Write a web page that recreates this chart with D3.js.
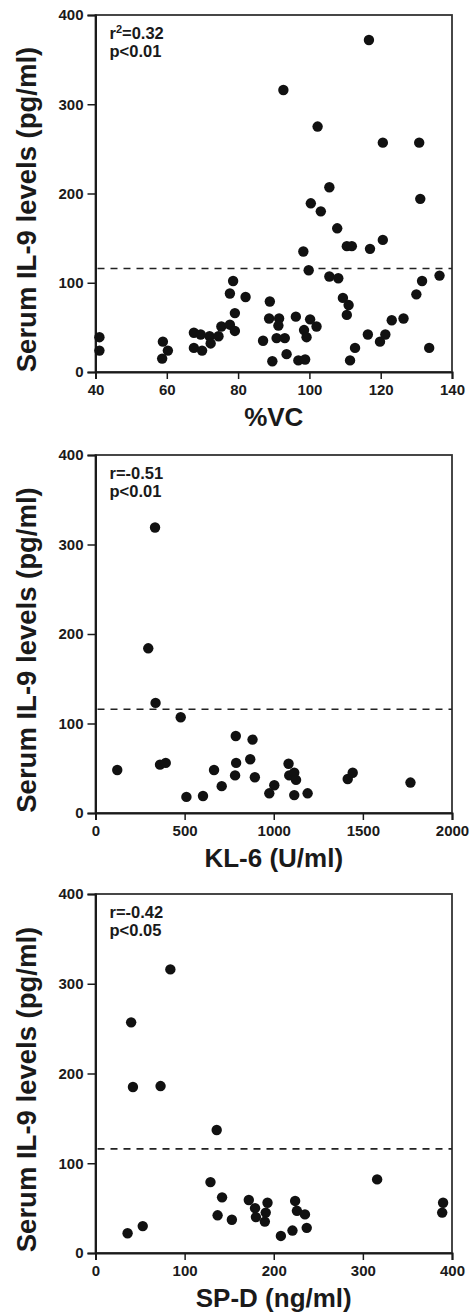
<!DOCTYPE html>
<html><head><meta charset="utf-8">
<script src="https://cdn.jsdelivr.net/npm/d3@7"></script>
<style>body{margin:0;background:#fff}text{font-family:"Liberation Sans",Arial,Helvetica,sans-serif;fill:#1a1a1a}</style>
</head><body>
<svg id="c" width="471" height="1312"></svg>
<script>
// ---- data ----
const yTicks = [0, 100, 200, 300, 400];
const cutoff = 116;
const yTitle = "Serum IL-9 levels (pg/ml)";

const vcTicks = [40, 60, 80, 100, 120, 140];
const vcX = [41.1,41.1,58.9,58.7,60.3,67.6,67.6,69.5,69.9,72,72.3,74.5,75.3,77.7,77.7,78.6,79.1,79.1,82.1,87,88.9,88.7,89.6,91.5,91.3,90.8,93.1,93.6,96.2,96.9,98.8,98.5,99.2,100.2,99.8,102,105.6,108.1,109.4,111,110.5,111.4,112.8,116.4,119.8,121.3,123.1,126.4,130,131.6,133.6,136.5,105.6,120.6,130.8,100.4,103.2,131.1,107.8,110.5,111.9,117,120.6,98.3,116.7,92.7,102.3];
const vcY = [39,24,34,15,24,44,27,42,24,40,32,40,51,53,88,102,66,46,84,35,79,60,12,60,52,38,38,20,62,13,14,47,39,59,114,51,107,105,83,75,64,13,27,42,34,42,58,60,87,102,27,108,207,257,257,189,180,194,161,141,141,138,148,135,372,316,275];

const klTicks = [0, 500, 1000, 1500, 2000];
const klX = [122,337,478,362,394,510,603,665,708,787,789,783,881,868,894,975,1003,1083,1087,1115,1125,1115,1190,1415,1443,1767,296,334];
const klY = [48,123,107,54,56,18,19,48,30,86,56,42,82,60,40,22,31,55,42,45,37,20,22,38,45,34,184,319];

const spdTicks = [0, 100, 200, 300, 400];
const spdX = [36,53,129,142,137,153,172,179,180,193,191,190,208,221,224,226,235,237,316,390,389,40,42,73,136,84];
const spdY = [22,30,79,62,42,37,59,50,40,56,45,35,19,25,58,47,43,28,82,56,45,257,185,186,137,316];

const panels = [
  {top: 15,  bottom: 372,  xDomain: [40, 140], xTicks: vcTicks,  xs: vcX,  ys: vcY,  xTitle: "%VC",          stat: ["r", "2", "=0.32"], p: "p<0.01"},
  {top: 455, bottom: 813,  xDomain: [0, 2000], xTicks: klTicks,  xs: klX,  ys: klY,  xTitle: "KL-6 (U/ml)",  stat: ["r=-0.51"],          p: "p<0.01"},
  {top: 894, bottom: 1253, xDomain: [0, 400],  xTicks: spdTicks, xs: spdX, ys: spdY, xTitle: "SP-D (ng/ml)", stat: ["r=-0.42"],          p: "p<0.05"}
];

const svg = d3.select("#c");
const left = 95.5, right = 452;
const ink = "#1a1a1a";

panels.forEach(pn => {
  const x = d3.scaleLinear().domain(pn.xDomain).range([left, right]);
  const y = d3.scaleLinear().domain([0, 400]).range([pn.bottom, pn.top]);
  const g = svg.append("g");

  // frame
  g.append("rect").attr("x", left).attr("y", pn.top)
    .attr("width", right - left).attr("height", pn.bottom - pn.top)
    .attr("fill", "none").attr("stroke", "#333").attr("stroke-width", 1.8);

  // y axis
  const ya = g.append("g").attr("transform", `translate(${left},0)`)
    .call(d3.axisLeft(y).tickValues(yTicks).tickSize(8).tickPadding(4).tickFormat(d3.format("d")));
  ya.select(".domain").attr("stroke", ink).attr("stroke-width", 2);
  ya.selectAll(".tick line").attr("stroke", ink).attr("stroke-width", 1.5);
  ya.selectAll(".tick text").attr("font-size", 15).attr("font-weight", "bold")
    .attr("fill", ink).style("font-family", '"Liberation Sans",Arial,sans-serif');

  // x axis
  const xa = g.append("g").attr("transform", `translate(0,${pn.bottom})`)
    .call(d3.axisBottom(x).tickValues(pn.xTicks).tickSize(7).tickPadding(5).tickFormat(d3.format("d")));
  xa.select(".domain").attr("stroke", ink).attr("stroke-width", 2);
  xa.selectAll(".tick line").attr("stroke", ink).attr("stroke-width", 1.5);
  xa.selectAll(".tick text").attr("font-size", 15).attr("font-weight", "bold")
    .attr("fill", ink).style("font-family", '"Liberation Sans",Arial,sans-serif');

  // cutoff dashed line
  g.append("line").attr("x1", left + 2).attr("x2", right)
    .attr("y1", y(cutoff)).attr("y2", y(cutoff))
    .attr("stroke", "#222").attr("stroke-width", 1.6).attr("stroke-dasharray", "7,6");

  // points
  g.selectAll("circle").data(pn.xs.map((v, i) => [v, pn.ys[i]])).enter().append("circle")
    .attr("cx", d => x(d[0])).attr("cy", d => y(d[1])).attr("r", 5.2).attr("fill", "#111");

  // stats
  const st = g.append("text").attr("x", left + 14).attr("y", pn.top + 24)
    .attr("font-size", 16.5).attr("font-weight", "bold");
  if (pn.stat.length === 3) {
    st.append("tspan").text(pn.stat[0]);
    st.append("tspan").attr("dy", -6).attr("font-size", 11).text(pn.stat[1]);
    st.append("tspan").attr("dy", 6).text(pn.stat[2]);
  } else {
    st.text(pn.stat[0]);
  }
  g.append("text").attr("x", left + 14).attr("y", pn.top + 42)
    .attr("font-size", 16.5).attr("font-weight", "bold").text(pn.p);

  // x title
  g.append("text").attr("x", (left + right) / 2).attr("y", pn.bottom + 54)
    .attr("text-anchor", "middle").attr("font-size", 26).attr("font-weight", "bold").text(pn.xTitle);

  // y title
  const cy = (pn.top + pn.bottom) / 2 + 16;
  g.append("text").attr("transform", `translate(36,${cy}) rotate(-90)`)
    .attr("text-anchor", "middle").attr("font-size", 27.5).attr("font-weight", "bold").text(yTitle);
});
</script>
</body></html>
